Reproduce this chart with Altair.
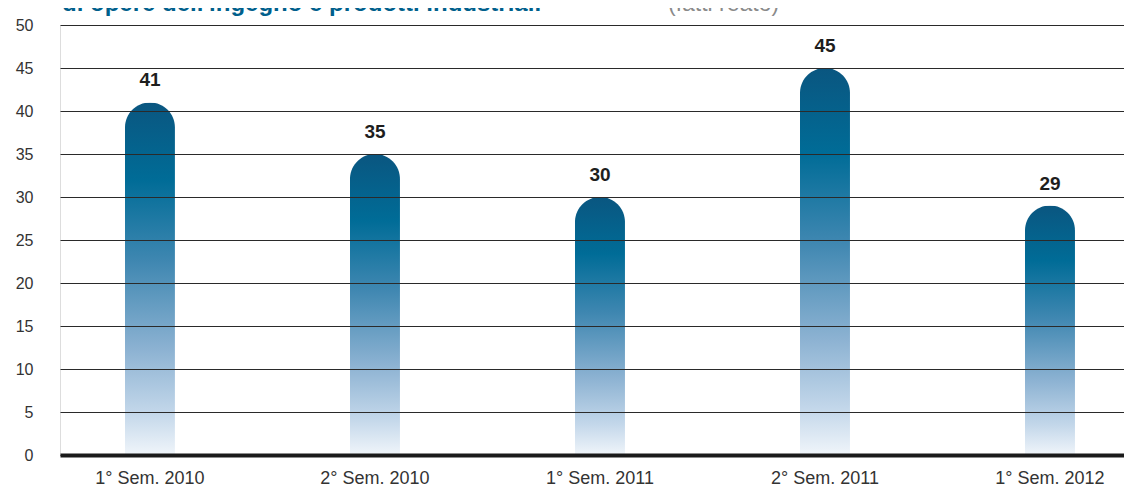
import altair as alt
import pandas as pd

categories = ["1° Sem. 2010", "2° Sem. 2010", "1° Sem. 2011", "2° Sem. 2011", "1° Sem. 2012"]
values = [41, 35, 30, 45, 29]
y_ticks = [0, 5, 10, 15, 20, 25, 30, 35, 40, 45, 50]
title_main = "di opere dell'ingegno e prodotti industriali"
title_sub = "(fatti reato)"

df = pd.DataFrame({"periodo": categories, "valore": values})

FONT = "Liberation Sans"
W, H = 1064, 430

gradient = alt.Gradient(
    gradient="linear",
    x1=0, x2=0, y1=0, y2=1,
    stops=[
        alt.GradientStop(color="#0a5680", offset=0.0),
        alt.GradientStop(color="#006c97", offset=0.22),
        alt.GradientStop(color="#3f87b1", offset=0.45),
        alt.GradientStop(color="#8cb2d2", offset=0.70),
        alt.GradientStop(color="#c3d7ea", offset=0.88),
        alt.GradientStop(color="#f0f5fa", offset=1.0),
    ],
)

x_scale = alt.Scale(domain=categories, paddingInner=0.7778, paddingOuter=0.2533, align=0.570)
y_scale = alt.Scale(domain=[0, 50], nice=False, zero=True)

x_axis = alt.Axis(
    title=None, ticks=False, tickSize=0, domain=True, domainWidth=4, domainColor="#1a1a1a",
    labelFont=FONT, labelFontSize=18, labelColor="#333333", labelPadding=28,
    labelBaseline="alphabetic", labelAngle=0, zindex=1,
)
y_axis = alt.Axis(
    title=None, ticks=False, tickSize=0, domain=False, values=y_ticks,
    grid=True, gridColor="#2a2a2a", gridWidth=1, zindex=1,
    labelFont=FONT, labelFontSize=16, labelColor="#333333", labelPadding=27,
)

base = alt.Chart(df)

bars = base.mark_bar(
    color=gradient, cornerRadiusTopLeft=25, cornerRadiusTopRight=25
).encode(
    x=alt.X("periodo:N", sort=categories, scale=x_scale, axis=x_axis),
    y=alt.Y("valore:Q", scale=y_scale, axis=y_axis),
)

labels = base.mark_text(
    font=FONT, fontSize=19, fontWeight="bold", color="#1e1e1e", dy=-16, baseline="alphabetic"
).encode(
    x=alt.X("periodo:N", sort=categories, scale=x_scale),
    y=alt.Y("valore:Q", scale=y_scale),
    text=alt.Text("valore:Q"),
)

title_df = pd.DataFrame({"t": [title_main]})
title1 = alt.Chart(title_df).mark_text(
    font=FONT, fontSize=24, fontWeight="bold", color="#005f8c", align="left", baseline="alphabetic"
).encode(x=alt.value(2), y=alt.value(-14), text="t:N")

sub_df = pd.DataFrame({"t": [title_sub]})
title2 = alt.Chart(sub_df).mark_text(
    font=FONT, fontSize=23, color="#8a8a8a", align="left", baseline="alphabetic"
).encode(x=alt.value(608), y=alt.value(-14), text="t:N")

chart = alt.layer(bars, labels, title1, title2).properties(
    width=W, height=H,
    autosize=alt.AutoSizeParams(type="none"),
    padding={"left": 52, "top": 17, "right": 0, "bottom": 32},
).configure_view(stroke=None).configure(background="white")

chart.save("out.html", embed_options={"renderer": "svg", "actions": False})
